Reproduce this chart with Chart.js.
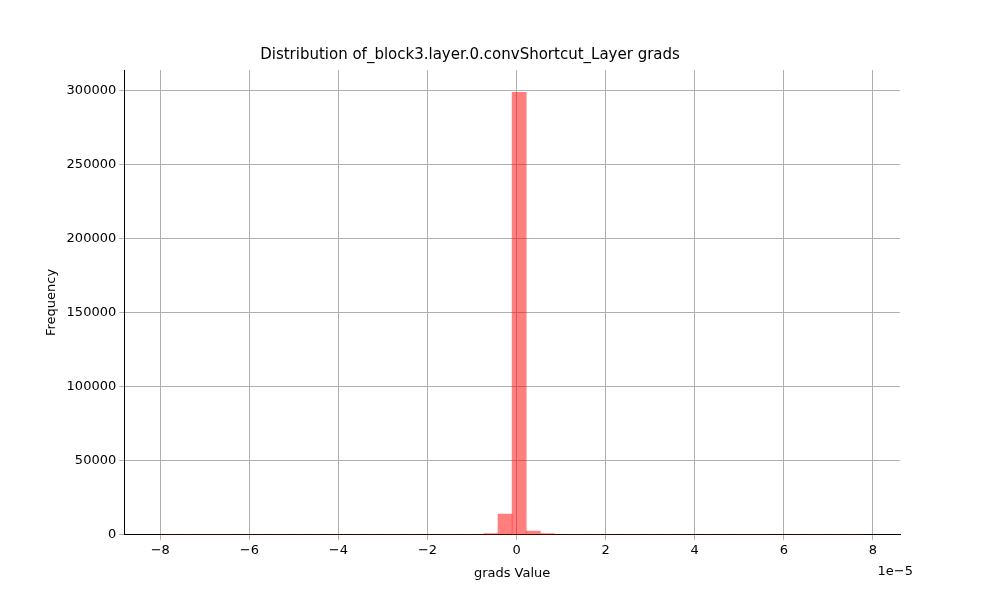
<!DOCTYPE html>
<html><head><meta charset="utf-8">
<script src="https://cdn.jsdelivr.net/npm/chart.js@4"></script>
<style>body{margin:0;background:#fff}#wrap{width:1000px;height:600px}</style>
</head><body><div id="wrap"><canvas id="c"></canvas></div>
<script>
// histogram bins, x in units of 1e-5
const binStart = -8.02;
const binWidth = 0.3168;
const counts = [0,0,0,0,0,0,0,0,0,0,0,0,0,0,0,0,0,0,0,0,0,0,0,800,14000,298500,2500,800,0,0,0,0,0,0,0,0,0,0,0,0,0,0,0,0,0,0,0,0,0,0];
const xTicks = [-8,-6,-4,-2,0,2,4,6,8];
const yTicks = [0,50000,100000,150000,200000,250000,300000];
const yMax = 313600;

const points = counts.map((v, i) => ({x: binStart + binWidth * (i + 0.5), y: v}));

const exponentLabel = {
  id: 'exponentLabel',
  afterDraw(chart) {
    const ctx = chart.ctx, a = chart.chartArea;
    ctx.save();
    ctx.font = '13px "DejaVu Sans"';
    ctx.fillStyle = '#000';
    ctx.textAlign = 'right';
    ctx.fillText('1e\u22125', a.right + 13, a.bottom + 40);
    ctx.restore();
  }
};

new Chart(document.getElementById('c'), {
  type: 'bar',
  data: {datasets: [{data: points, backgroundColor: 'rgba(255,0,0,0.5)', barPercentage: 1, categoryPercentage: 1, borderWidth: 0}]},
  options: {
    responsive: true, maintainAspectRatio: false, animation: false,
    layout: {padding: {left: 40, right: 100, top: 46, bottom: 15}},
    plugins: {
      legend: {display: false},
      title: {display: true, text: 'Distribution of_block3.layer.0.convShortcut_Layer grads', color: '#000', font: {family: 'DejaVu Sans', size: 15, weight: 'normal'}, padding: {top: 0, bottom: 6}}
    },
    scales: {
      x: {
        type: 'linear', min: -8.81, max: 8.61, offset: false,
        afterBuildTicks: s => { s.ticks = xTicks.map(v => ({value: v})); },
        ticks: {color: '#000', font: {family: 'DejaVu Sans', size: 13}, callback: v => String(v).replace('-', '\u2212')},
        grid: {color: '#b0b0b0', offset: false, tickLength: 5},
        border: {color: '#000'},
        title: {display: true, text: 'grads Value', color: '#000', font: {family: 'DejaVu Sans', size: 13}}
      },
      y: {
        min: 0, max: yMax,
        afterBuildTicks: s => { s.ticks = yTicks.map(v => ({value: v})); },
        ticks: {color: '#000', font: {family: 'DejaVu Sans', size: 13}, callback: v => String(v)},
        grid: {color: '#b0b0b0', tickLength: 5},
        border: {color: '#000'},
        title: {display: true, text: 'Frequency', color: '#000', font: {family: 'DejaVu Sans', size: 13}}
      }
    }
  },
  plugins: [exponentLabel]
});
</script></body></html>
